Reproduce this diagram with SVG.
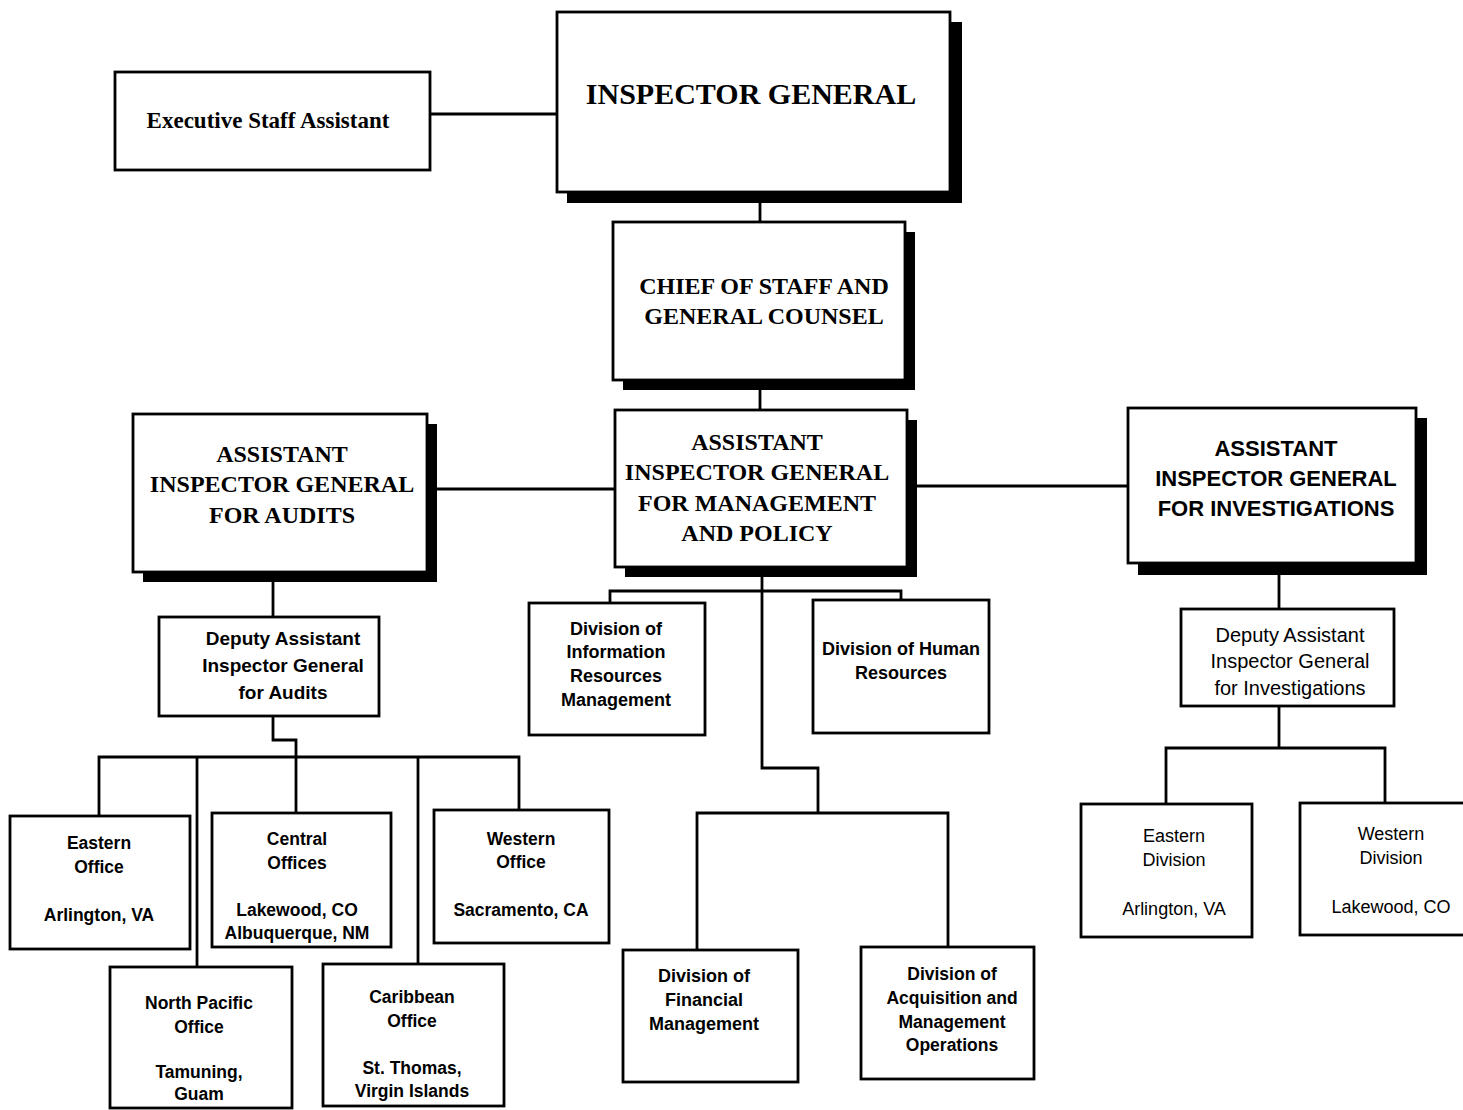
<svg xmlns="http://www.w3.org/2000/svg" width="1463" height="1110" viewBox="0 0 1463 1110">
<style>
.box{fill:#fff;stroke:#000;stroke-width:2.8}
.sh{fill:#000}
.ln{fill:none;stroke:#000;stroke-width:2.8}
.big{font-family:"Liberation Serif",serif;font-weight:bold;text-anchor:middle;fill:#000}
.sm{font-family:"Liberation Sans",sans-serif;font-weight:bold;text-anchor:middle;fill:#000}
.inv{font-family:"Liberation Sans",sans-serif;text-anchor:middle;fill:#000}
</style>
<rect width="1463" height="1110" fill="#fff"/>
<g id="connectors">
<path class="ln" d="M430 114H557"/>
<path class="ln" d="M760 192V222"/>
<path class="ln" d="M760 380V410"/>
<path class="ln" d="M437 489H615"/>
<path class="ln" d="M917 486H1128"/>
<path class="ln" d="M273 582V617"/>
<path class="ln" d="M273 716V740H296V757"/>
<path class="ln" d="M99 816V757H519V810"/>
<path class="ln" d="M197 757V967"/>
<path class="ln" d="M296 757V813"/>
<path class="ln" d="M418 757V964"/>
<path class="ln" d="M762 577V768H818V813"/>
<path class="ln" d="M610 603V591H901V600"/>
<path class="ln" d="M697 950V813H948V947"/>
<path class="ln" d="M1279 575V609"/>
<path class="ln" d="M1279 706V748"/>
<path class="ln" d="M1166 804V748H1385V803"/>
</g>
<g id="exec-staff">
<rect class="box" x="115" y="72" width="315" height="98"/>
<text class="big" x="268" y="128" font-size="23">Executive Staff Assistant</text>
</g>
<g id="inspector-general">
<rect class="sh" x="567" y="22" width="395" height="181"/>
<rect class="box" x="557" y="12" width="393" height="180"/>
<text class="big" x="751" y="104" font-size="30">INSPECTOR GENERAL</text>
</g>
<g id="chief-of-staff">
<rect class="sh" x="623" y="232" width="292" height="158"/>
<rect class="box" x="613" y="222" width="292" height="158"/>
<text class="big" x="764" y="294" font-size="24">CHIEF OF STAFF AND</text>
<text class="big" x="764" y="324" font-size="24">GENERAL COUNSEL</text>
</g>
<g id="aig-mgmt-policy">
<rect class="sh" x="625" y="420" width="292" height="157"/>
<rect class="box" x="615" y="410" width="292" height="157"/>
<text class="big" x="757" y="450" font-size="24">ASSISTANT</text>
<text class="big" x="757" y="480" font-size="24">INSPECTOR GENERAL</text>
<text class="big" x="757" y="511" font-size="24">FOR MANAGEMENT</text>
<text class="big" x="757" y="541" font-size="24">AND POLICY</text>
</g>
<g id="aig-audits">
<rect class="sh" x="143" y="424" width="294" height="158"/>
<rect class="box" x="133" y="414" width="294" height="158"/>
<text class="big" x="282" y="462" font-size="24">ASSISTANT</text>
<text class="big" x="282" y="492" font-size="24">INSPECTOR GENERAL</text>
<text class="big" x="282" y="523" font-size="24">FOR AUDITS</text>
</g>
<g id="aig-investigations">
<rect class="sh" x="1138" y="418" width="289" height="157"/>
<rect class="box" x="1128" y="408" width="288" height="155"/>
<text class="sm" x="1276" y="456" font-size="22">ASSISTANT</text>
<text class="sm" x="1276" y="486" font-size="22">INSPECTOR GENERAL</text>
<text class="sm" x="1276" y="516" font-size="22">FOR INVESTIGATIONS</text>
</g>
<g id="deputy-audits">
<rect class="box" x="159" y="617" width="220" height="99"/>
<text class="sm" x="283" y="645" font-size="19">Deputy Assistant</text>
<text class="sm" x="283" y="672" font-size="19">Inspector General</text>
<text class="sm" x="283" y="699" font-size="19">for Audits</text>
</g>
<g id="eastern-office">
<rect class="box" x="10" y="816" width="180" height="133"/>
<text class="sm" x="99" y="849" font-size="17.5">Eastern</text>
<text class="sm" x="99" y="873" font-size="17.5">Office</text>
<text class="sm" x="99" y="921" font-size="17.5">Arlington, VA</text>
</g>
<g id="central-offices">
<rect class="box" x="212" y="813" width="179" height="134"/>
<text class="sm" x="297" y="845" font-size="17.5">Central</text>
<text class="sm" x="297" y="869" font-size="17.5">Offices</text>
<text class="sm" x="297" y="916" font-size="17.5">Lakewood, CO</text>
<text class="sm" x="297" y="939" font-size="17.5">Albuquerque, NM</text>
</g>
<g id="western-office">
<rect class="box" x="434" y="810" width="175" height="133"/>
<text class="sm" x="521" y="845" font-size="17.5">Western</text>
<text class="sm" x="521" y="868" font-size="17.5">Office</text>
<text class="sm" x="521" y="916" font-size="17.5">Sacramento, CA</text>
</g>
<g id="north-pacific-office">
<rect class="box" x="110" y="967" width="182" height="141"/>
<text class="sm" x="199" y="1009" font-size="17.5">North Pacific</text>
<text class="sm" x="199" y="1033" font-size="17.5">Office</text>
<text class="sm" x="199" y="1078" font-size="17.5">Tamuning,</text>
<text class="sm" x="199" y="1100" font-size="17.5">Guam</text>
</g>
<g id="caribbean-office">
<rect class="box" x="323" y="964" width="181" height="142"/>
<text class="sm" x="412" y="1003" font-size="17.5">Caribbean</text>
<text class="sm" x="412" y="1027" font-size="17.5">Office</text>
<text class="sm" x="412" y="1074" font-size="17.5">St. Thomas,</text>
<text class="sm" x="412" y="1097" font-size="17.5">Virgin Islands</text>
</g>
<g id="div-info-resources">
<rect class="box" x="529" y="603" width="176" height="132"/>
<text class="sm" x="616" y="635" font-size="18">Division of</text>
<text class="sm" x="616" y="658" font-size="18">Information</text>
<text class="sm" x="616" y="682" font-size="18">Resources</text>
<text class="sm" x="616" y="706" font-size="18">Management</text>
</g>
<g id="div-human-resources">
<rect class="box" x="813" y="600" width="176" height="133"/>
<text class="sm" x="901" y="655" font-size="18">Division of Human</text>
<text class="sm" x="901" y="679" font-size="18">Resources</text>
</g>
<g id="div-financial">
<rect class="box" x="623" y="950" width="175" height="132"/>
<text class="sm" x="704" y="982" font-size="18">Division of</text>
<text class="sm" x="704" y="1006" font-size="18">Financial</text>
<text class="sm" x="704" y="1030" font-size="18">Management</text>
</g>
<g id="div-acquisition">
<rect class="box" x="861" y="947" width="173" height="132"/>
<text class="sm" x="952" y="980" font-size="17.5">Division of</text>
<text class="sm" x="952" y="1004" font-size="17.5">Acquisition and</text>
<text class="sm" x="952" y="1028" font-size="17.5">Management</text>
<text class="sm" x="952" y="1051" font-size="17.5">Operations</text>
</g>
<g id="deputy-investigations">
<rect class="box" x="1181" y="609" width="213" height="97"/>
<text class="inv" x="1290" y="642" font-size="20">Deputy Assistant</text>
<text class="inv" x="1290" y="668" font-size="20">Inspector General</text>
<text class="inv" x="1290" y="695" font-size="20">for Investigations</text>
</g>
<g id="eastern-division">
<rect class="box" x="1081" y="804" width="171" height="133"/>
<text class="inv" x="1174" y="842" font-size="18">Eastern</text>
<text class="inv" x="1174" y="866" font-size="18">Division</text>
<text class="inv" x="1174" y="915" font-size="18">Arlington, VA</text>
</g>
<g id="western-division">
<rect class="box" x="1300" y="803" width="170" height="132"/>
<text class="inv" x="1391" y="840" font-size="18">Western</text>
<text class="inv" x="1391" y="864" font-size="18">Division</text>
<text class="inv" x="1391" y="913" font-size="18">Lakewood, CO</text>
</g>
</svg>
